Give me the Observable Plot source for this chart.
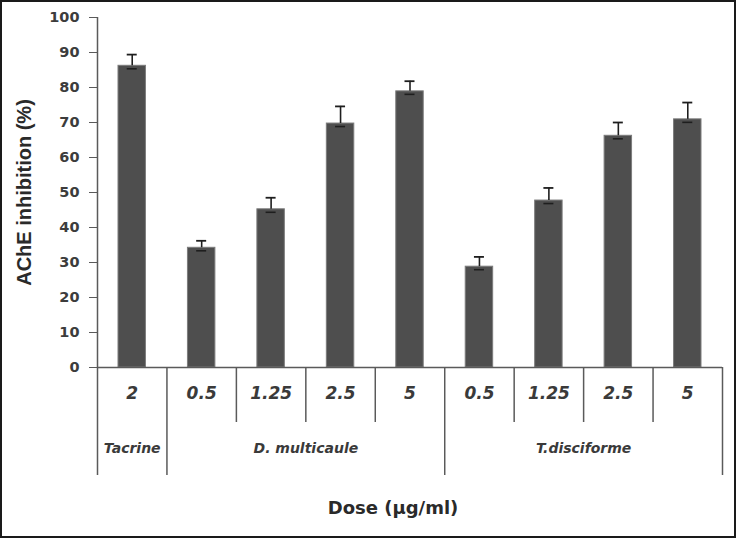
<!DOCTYPE html>
<html>
<head>
<meta charset="utf-8">
<script src="https://cdn.jsdelivr.net/npm/d3@7"></script>
<script src="https://cdn.jsdelivr.net/npm/@observablehq/plot@0.6"></script>
<style>
  html, body { margin: 0; padding: 0; background: #fff; }
  #wrap { position: relative; width: 736px; height: 538px; overflow: hidden; }
  #border { position: absolute; left: 0; top: 0; width: 736px; height: 538px; box-sizing: border-box; border: 2px solid #1a1a1a; pointer-events: none; }
</style>
</head>
<body>
<div id="wrap"><div id="border"></div></div>
<script>
// ---- data ----
const groups = ["Tacrine", "D. multicaule", "T.disciforme"];
const groupCenters = [0.5, 3, 7];
const doses = ["2", "0.5", "1.25", "2.5", "5", "0.5", "1.25", "2.5", "5"];
const groupIndex = [0, 1, 1, 1, 1, 2, 2, 2, 2];
const values = [86.2, 34.2, 45.2, 69.7, 78.9, 28.8, 47.7, 66.2, 70.9];
const errors = [3.2, 2.0, 3.3, 4.9, 2.9, 2.8, 3.6, 3.8, 4.8];
const yTicks = [0, 10, 20, 30, 40, 50, 60, 70, 80, 90, 100];
const innerSeparators = [2, 3, 4, 6, 7, 8];
const groupSeparators = [1, 5, 9];
const yTitle = "AChE inhibition (%)";
const xTitle = "Dose (µg/ml)";

const rows = doses.map((dose, i) => ({i, dose, group: groups[groupIndex[i]], value: values[i], error: errors[i]}));
const groupRows = groups.map((g, k) => ({name: g, x: groupCenters[k]}));

const axisColor = "#5a5a5a";
const textColor = "#3a3a3a";

const chart = Plot.plot({
  width: 736,
  height: 538,
  marginLeft: 97,
  marginRight: 14,
  marginTop: 17,
  marginBottom: 171,
  style: {fontFamily: "'DejaVu Sans', sans-serif", background: "transparent", color: textColor},
  x: {domain: [0, 9], axis: null},
  y: {domain: [0, 100], axis: null},
  marks: [
    // bars
    Plot.rectY(rows, {x1: d => d.i, x2: d => d.i + 1, y: "value", insetLeft: 21, insetRight: 21, fill: "#4e4e4e", stroke: "#7c7c7c", strokeWidth: 1}),
    // error bars
    Plot.ruleX(rows, {x: d => d.i + 0.5, y1: "value", y2: d => d.value + d.error, stroke: "#1e1e1e", strokeWidth: 1.6}),
    Plot.ruleY(rows, {y: d => d.value + d.error, x1: d => d.i + 0.5, x2: d => d.i + 0.5, insetLeft: -5, insetRight: -5, stroke: "#1e1e1e", strokeWidth: 1.8}),
    Plot.ruleY(rows, {y: "value", x1: d => d.i + 0.5, x2: d => d.i + 0.5, insetLeft: -5, insetRight: -5, dy: 3, stroke: "#1e1e1e", strokeWidth: 1.6}),
    // y axis
    Plot.axisY({ticks: yTicks, tickSize: 8, tickPadding: 10, fontSize: 14.5, fontWeight: "bold", color: axisColor, fill: "#3c3c3c", label: null}),
    Plot.ruleX([0], {stroke: axisColor, strokeWidth: 1.5, insetBottom: -108}),
    // x axis line
    Plot.ruleY([0], {stroke: axisColor, strokeWidth: 1.5}),
    // separators below axis
    Plot.ruleX(innerSeparators, {stroke: axisColor, strokeWidth: 1.5, insetTop: 350, insetBottom: -55}),
    Plot.ruleX(groupSeparators, {stroke: axisColor, strokeWidth: 1.5, insetTop: 350, insetBottom: -108}),
    // dose labels
    Plot.text(rows, {x: d => d.i + 0.5, text: "dose", frameAnchor: "bottom", dy: 31, fontSize: 17, fontStyle: "italic", fontWeight: "bold", fill: textColor}),
    // group labels
    Plot.text(groupRows, {x: "x", text: "name", frameAnchor: "bottom", dy: 85, fontSize: 14, fontStyle: "italic", fontWeight: "bold", fill: textColor}),
    // axis titles
    Plot.text([xTitle], {text: d => d, frameAnchor: "bottom", dy: 146, dx: -17, fontSize: 18, fontWeight: "bold", fill: "#2a2a2a"}),
    Plot.text([yTitle], {text: d => d, frameAnchor: "left", textAnchor: "middle", dx: -73, rotate: -90, fontSize: 20, fontWeight: "bold", fontFamily: "'Liberation Sans', Arial, sans-serif", fill: "#2a2a2a"})
  ]
});
chart.style.position = "absolute";
chart.style.left = "0px";
chart.style.top = "0px";
document.getElementById("wrap").prepend(chart);
</script>
</body>
</html>
